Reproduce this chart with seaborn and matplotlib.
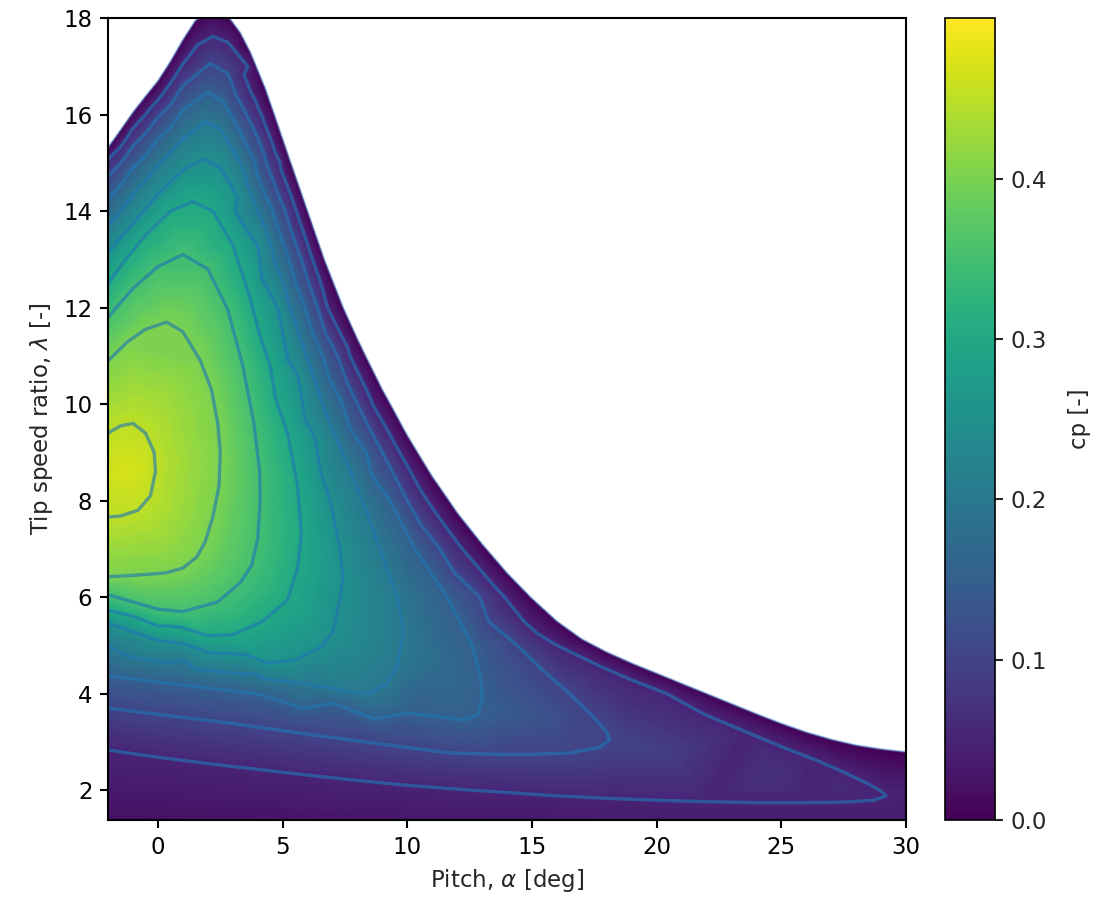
import numpy as np
import matplotlib
matplotlib.use("Agg")
import matplotlib.pyplot as plt
import matplotlib.tri as mtri
from matplotlib.cm import ScalarMappable
from matplotlib.colors import Normalize
from matplotlib.patches import Polygon
import seaborn as sns

# ---- data -----------------------------------------------------------------
# contour traces: pitch [deg] and tip speed ratio [-] along each cp level
cp_levels = [0.05, 0.10, 0.15, 0.20, 0.25, 0.30, 0.35, 0.40, 0.45]

cp05_pitch = [-2, -1, 0, 1, 1.6, 2.2, 2.8, 3.6, 4.15, 4.9, 5.55, 6.2, 6.8, 7.7, 8.6, 9.7, 10.8, 12.2, 13.9, 16.0,
              17.8, 19.0, 20.4, 21.2, 22.0, 23.7, 25.1, 26.4, 27.5, 28.4, 29.0, 29.2, 28.7, 27.5, 26.0, 24.0, 22.0,
              20.0, 18.0, 16.0, 14.0, 12.0, 10.0, 8.0, 6.0, 4.0, 2.0, 0.0, -2.0]
cp05_tsr = [15.07, 15.72, 16.3, 17.05, 17.45, 17.62, 17.5, 17.0, 16.0, 15.0, 14.0, 13.0, 12.0, 11.0, 10.0, 9.0, 8.0,
            7.0, 6.0, 5.0, 4.55, 4.28, 4.0, 3.77, 3.55, 3.18, 2.88, 2.62, 2.37, 2.15, 1.98, 1.88, 1.79, 1.75, 1.74,
            1.74, 1.76, 1.79, 1.83, 1.88, 1.95, 2.02, 2.1, 2.2, 2.31, 2.43, 2.55, 2.68, 2.83]

cp10_pitch = [-2, -1, 0, 1, 2.1, 2.8, 3.55, 4.35, 5.1, 5.75, 6.4, 7.2, 8.0, 9.0, 10.0, 11.3, 12.9, 14.4, 15.4, 16.5,
              17.4, 18.0, 18.1, 17.7, 16.5, 15.0, 13.7, 11.7, 9.0, 5.7, 3.0, 0.0, -2.0]
cp10_tsr = [14.72, 15.35, 15.95, 16.6, 17.06, 16.85, 16.0, 15.0, 14.0, 13.0, 12.0, 11.0, 10.0, 9.0, 8.0, 7.0, 6.0,
            5.0, 4.5, 4.0, 3.55, 3.2, 3.04, 2.88, 2.77, 2.74, 2.74, 2.77, 2.95, 3.18, 3.38, 3.57, 3.70]

cp15_pitch = [-2, -1, 0, 1, 2.0, 2.6, 3.15, 3.9, 4.6, 5.25, 5.9, 6.6, 7.4, 8.35, 9.3, 10.3, 11.6, 12.6, 12.95, 13.0,
              12.8, 12.3, 10.0, 7.0, 4.0, 1.0, -2.0]
cp15_tsr = [14.25, 14.9, 15.5, 16.1, 16.46, 16.28, 15.8, 15.0, 14.0, 13.0, 12.0, 11.0, 10.0, 9.0, 8.0, 7.0, 6.0, 5.0,
            4.3, 3.87, 3.55, 3.45, 3.6, 3.8, 3.99, 4.18, 4.37]

cp20_pitch = [-2, -1, 0, 1, 1.9, 2.5, 3.3, 4.0, 4.65, 5.3, 5.95, 6.6, 7.4, 8.2, 8.9, 9.6, 9.85, 9.6, 9.2, 8.4, 7.5,
              6.0, 4.0, 1.0, -2.0]
cp20_tsr = [13.7, 14.35, 14.95, 15.5, 15.85, 15.7, 15.0, 14.0, 13.0, 12.0, 11.0, 10.0, 9.0, 8.0, 7.0, 6.0, 5.3, 4.6,
            4.2, 4.0, 4.05, 4.2, 4.4, 4.7, 4.97]

cp25_pitch = [-2, -1, 0, 1, 1.8, 2.5, 3.2, 4.0, 4.8, 5.6, 6.3, 6.9, 7.3, 7.42, 7.3, 7.0, 6.5, 5.5, 4.4, 2.0, 0.0, -2.0]
cp25_tsr = [13.15, 13.75, 14.35, 14.85, 15.08, 14.9, 14.3, 13.3, 12.0, 10.6, 9.3, 8.0, 7.0, 6.4, 5.94, 5.26, 4.95,
            4.7, 4.63, 4.85, 5.1, 5.46]

cp30_pitch = [-2, -1.3, -0.5, 0.5, 1.4, 2.2, 3.0, 3.7, 4.5, 5.2, 5.6, 5.75, 5.6, 5.2, 4.2, 3.0, 2.0, 0.0, -2.0]
cp30_tsr = [12.5, 13.0, 13.5, 14.0, 14.2, 14.0, 13.3, 12.2, 10.8, 9.4, 8.3, 7.3, 6.6, 5.94, 5.5, 5.22, 5.2, 5.4, 5.73]

cp35_pitch = [-2, -1, 0, 1.0, 2.0, 2.8, 3.4, 3.85, 4.08, 4.1, 4.0, 3.75, 3.3, 2.4, 1.0, 0.0, -2.0]
cp35_tsr = [11.8, 12.4, 12.85, 13.1, 12.8, 11.96, 10.8, 9.6, 8.6, 8.0, 7.2, 6.65, 6.3, 5.9, 5.7, 5.75, 6.05]

cp40_pitch = [-2, -1.2, -0.5, 0.35, 1.0, 1.7, 2.15, 2.4, 2.5, 2.45, 2.2, 1.9, 1.56, 1.0, 0.3, -1.0, -2.0]
cp40_tsr = [10.9, 11.3, 11.55, 11.7, 11.5, 10.9, 10.3, 9.6, 9.0, 8.3, 7.66, 7.15, 6.83, 6.6, 6.5, 6.45, 6.42]

cp45_pitch = [-2, -1.5, -1.0, -0.5, -0.15, -0.1, -0.3, -0.8, -1.5, -2.0]
cp45_tsr = [9.4, 9.55, 9.6, 9.4, 9.0, 8.6, 8.1, 7.8, 7.68, 7.66]

# cp = 0 edge of the valid (coloured) region
zero_pitch = [-2, -1.5, -1, -0.5, 0, 0.5, 1, 1.5, 2.2, 2.9, 3.3, 3.7, 3.94, 4.1, 4.3, 4.5, 4.67, 5.0, 5.33, 5.5,
              6.0, 6.67, 7.43, 8.0, 8.33, 9.0, 9.32, 10.0, 10.41, 11.0, 11.67, 12.0, 13.0, 13.17, 14.0, 14.94, 16.0,
              17.0, 17.48, 18.0, 19, 20, 21, 22, 23, 24, 25, 26, 27, 28, 29, 30]
zero_tsr = [15.32, 15.68, 16.05, 16.38, 16.7, 17.1, 17.55, 17.95, 18.2, 17.98, 17.7, 17.3, 17.0, 16.8, 16.55, 16.25,
            16.0, 15.5, 15.0, 14.75, 14.0, 13.0, 12.0, 11.35, 11.0, 10.3, 10.0, 9.35, 9.0, 8.5, 8.0, 7.75, 7.1,
            7.0, 6.5, 6.0, 5.5, 5.13, 5.0, 4.86, 4.63, 4.42, 4.21, 4.0, 3.79, 3.58, 3.38, 3.2, 3.05, 2.93, 2.85,
            2.79]

# ridge (highest cp across the tip speed ratio, per pitch)
ridge_pitch = [-2, -1.3, -0.6, 1.2, 3.3, 4.9, 6.55, 8.6, 11.3, 15.5, 19.0, 20.5, 24.5, 27.5, 30]
ridge_tsr = [8.5, 8.6, 8.7, 8.85, 8.5, 7.65, 6.75, 5.7, 4.6, 3.45, 2.95, 2.79, 2.35, 2.05, 1.95]
ridge_cp = [0.463, 0.47, 0.463, 0.425, 0.375, 0.325, 0.275, 0.225, 0.175, 0.125, 0.097, 0.09, 0.07, 0.058, 0.045]

# lower and right edges of the plot
edge_pitch = [-2, 2, 6, 10, 14, 18, 22, 26, 30, 30]
edge_tsr = [1.38, 1.38, 1.38, 1.38, 1.38, 1.38, 1.38, 1.38, 1.38, 2.4]
edge_cp = [0.02, 0.022, 0.025, 0.028, 0.031, 0.034, 0.036, 0.037, 0.036, 0.022]

pitch_ticks = [0, 5, 10, 15, 20, 25, 30]
tsr_ticks = [2, 4, 6, 8, 10, 12, 14, 16, 18]
cbar_ticks = [0.0, 0.1, 0.2, 0.3, 0.4]

# ---- assemble scattered samples ---------------------------------------------
traces = [(cp05_pitch, cp05_tsr), (cp10_pitch, cp10_tsr), (cp15_pitch, cp15_tsr), (cp20_pitch, cp20_tsr),
          (cp25_pitch, cp25_tsr), (cp30_pitch, cp30_tsr), (cp35_pitch, cp35_tsr), (cp40_pitch, cp40_tsr),
          (cp45_pitch, cp45_tsr)]
xs, ys, zs = [], [], []
for lev, (p, t) in zip(cp_levels, traces):
    xs += list(p); ys += list(t); zs += [lev] * len(p)
xs += zero_pitch; ys += zero_tsr; zs += [0.0] * len(zero_pitch)
xs += ridge_pitch; ys += ridge_tsr; zs += ridge_cp
xs += edge_pitch; ys += edge_tsr; zs += edge_cp
x = np.array(xs, float); y = np.array(ys, float); z = np.array(zs, float)

tri0 = mtri.Triangulation(x, y * 2.0)
tri = mtri.Triangulation(x, y, tri0.triangles)

# ---- plot -------------------------------------------------------------------
sns.set_style("ticks")
plt.rcParams["font.family"] = ["DejaVu Sans"]
plt.rcParams["font.size"] = 11
plt.rcParams["mathtext.fontset"] = "dejavusans"

cmap = sns.color_palette("viridis", as_cmap=True)
vmax = 0.5

fig = plt.figure(figsize=(1097 / 150, 902 / 150), dpi=150)
ax = fig.add_axes([0.0985, 0.0909, 0.7275, 0.889])

region = Polygon([(zero_pitch[0], 1.38)] + list(zip(zero_pitch, zero_tsr)) + [(zero_pitch[-1], 1.38)],
                 closed=True, transform=ax.transData, facecolor="none", edgecolor="none")

fill = ax.tricontourf(tri, z, levels=np.linspace(0, vmax, 201), cmap=cmap, vmin=0, vmax=vmax)
fill.set_clip_path(region)
lines = ax.tricontour(tri, z, levels=cp_levels, colors="#1f77b4", alpha=0.62, linewidths=1.6)
lines.set_clip_path(region)
ax.plot(zero_pitch, zero_tsr, color="#5b9bd5", alpha=0.55, lw=0.9, solid_joinstyle="round")

ax.set_xlim(-2, 30)
ax.set_ylim(1.38, 18)
ax.set_xticks(pitch_ticks)
ax.set_yticks(tsr_ticks)
ax.tick_params(direction="out", length=4, width=1, colors="black", labelsize=11)
for s in ax.spines.values():
    s.set_color("black"); s.set_linewidth(1.0); s.set_visible(True)
ax.set_xlabel(r"Pitch, $\alpha$ [deg]", fontsize=11)
ax.set_ylabel(r"Tip speed ratio, $\lambda$ [-]", fontsize=11)

cax = fig.add_axes([0.8615, 0.0909, 0.0455, 0.889])
sm = ScalarMappable(norm=Normalize(0, vmax), cmap=cmap)
cb = fig.colorbar(sm, cax=cax)
cb.set_ticks(cbar_ticks)
cb.ax.tick_params(labelsize=11, length=4, width=1)
cb.outline.set_edgecolor("black")
cb.set_label("cp [-]", fontsize=11, labelpad=10)

fig.savefig("out.png", dpi=150, facecolor="white")
